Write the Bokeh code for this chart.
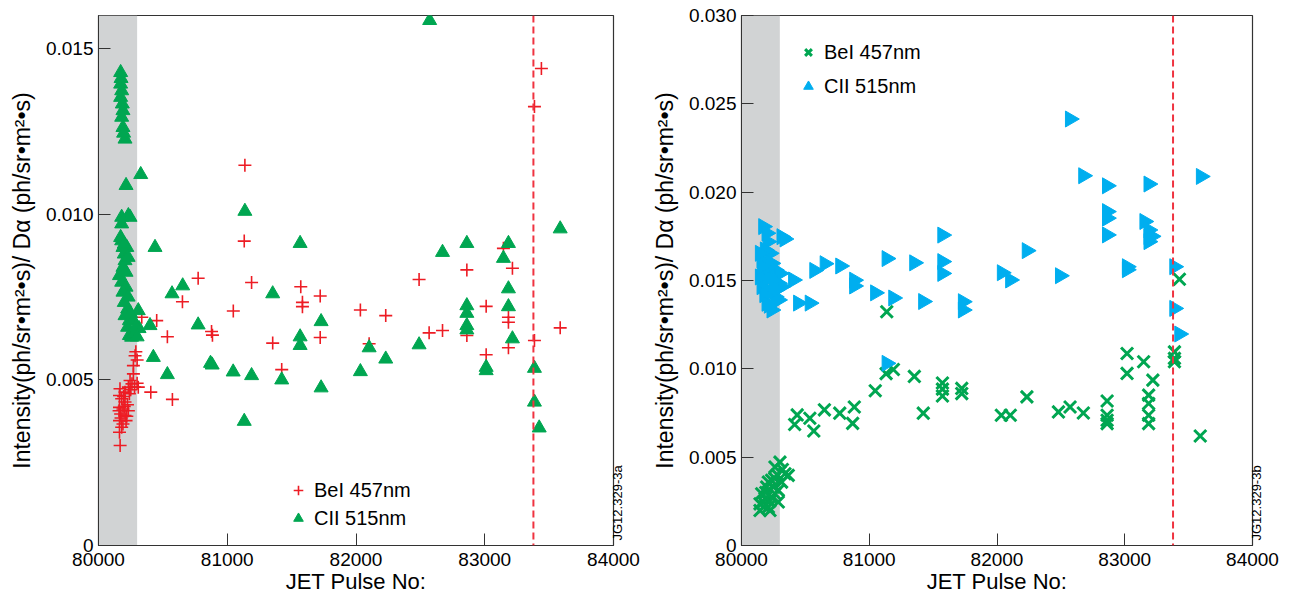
import numpy as np
from bokeh.plotting import figure
from bokeh.layouts import row
from bokeh.models import (BoxAnnotation, Span, Legend, LegendItem, FixedTicker,
                          LinearAxis, Range1d, ColumnDataSource)
from bokeh.embed import file_html
from bokeh.resources import INLINE

# ---------------- data ----------------
x_ticks = [80000, 81000, 82000, 83000, 84000]
left_y_ticks = [0, 0.005, 0.010, 0.015]
left_y_labels = ["0", "0.005", "0.010", "0.015"]
right_y_ticks = [0, 0.005, 0.010, 0.015, 0.020, 0.025, 0.030]
right_y_labels = ["0", "0.005", "0.010", "0.015", "0.020", "0.025", "0.030"]
shade_start, shade_end = 80000, 80300
dashed_pulse = 83378

series_bei = "BeI 457nm"
series_cii = "CII 515nm"

left_bei = [
    (80284, 0.00573), (80271, 0.00543), (80271, 0.00518), (80290, 0.00585), (80300, 0.0056),
    (80245, 0.00498), (80309, 0.00478), (80232, 0.00478), (80206, 0.00463), (80240, 0.00458),
    (80180, 0.00443), (80206, 0.00433), (80163, 0.00417), (80190, 0.00412), (80172, 0.00397),
    (80214, 0.00377), (80163, 0.00377), (80180, 0.00357), (80163, 0.00342), (80168, 0.00302),
    (80160, 0.00407), (80206, 0.00392), (80190, 0.00367), (80232, 0.00407), (80163, 0.00453),
    (80167, 0.00473), (80260, 0.00488), (80280, 0.00478), (80225, 0.00425), (80195, 0.0045),
    (80175, 0.00385), (80200, 0.0042), (80250, 0.0047), (80300, 0.0049), (80220, 0.0039),
    (80336, 0.00689), (80452, 0.00679), (80406, 0.00463), (80535, 0.0063), (80574, 0.00441),
    (80652, 0.00736), (80774, 0.00807), (80878, 0.00646), (80885, 0.00635), (81047, 0.00708),
    (81137, 0.01148), (81132, 0.00919), (81189, 0.00794), (81353, 0.00611), (81423, 0.00531),
    (81571, 0.00781), (81584, 0.00734), (81584, 0.00721), (81722, 0.00753), (81722, 0.00628),
    (82034, 0.00711), (82102, 0.00609), (82231, 0.00694), (82490, 0.00803), (82568, 0.00642),
    (82672, 0.00649), (82861, 0.00832), (82861, 0.00634), (83011, 0.00722), (83011, 0.00576),
    (83145, 0.00897), (83184, 0.00689), (83184, 0.00674), (83184, 0.00597), (83215, 0.00837),
    (83386, 0.01325), (83386, 0.00619), (83440, 0.0144), (83586, 0.00657),
]
left_cii = [
    (80172, 0.01428), (80175, 0.01410), (80172, 0.01393), (80180, 0.01373), (80172, 0.01353),
    (80185, 0.01333), (80190, 0.01313), (80180, 0.01293), (80190, 0.01262), (80206, 0.01227),
    (80195, 0.01245), (80328, 0.0112), (80214, 0.01087), (80232, 0.00996), (80180, 0.00991),
    (80245, 0.00991), (80180, 0.00971), (80180, 0.0092), (80172, 0.0093), (80190, 0.009),
    (80200, 0.0088), (80206, 0.0086), (80190, 0.0084), (80214, 0.00825), (80163, 0.00815),
    (80180, 0.00795), (80214, 0.0078), (80190, 0.00765), (80200, 0.00734), (80226, 0.00714),
    (80206, 0.00694), (80240, 0.00679), (80226, 0.00659), (80240, 0.00634), (80257, 0.00629),
    (80309, 0.00709), (80315, 0.00655), (80230, 0.0075), (80250, 0.0070), (80270, 0.0068),
    (80280, 0.0064), (80290, 0.0066), (80220, 0.0090), (80230, 0.0087), (80200, 0.0091),
    (80300, 0.0063),
    (80439, 0.009), (80400, 0.00664), (80426, 0.00568), (80571, 0.0076), (80654, 0.00784),
    (80774, 0.00666), (80535, 0.00516), (80870, 0.0055), (80883, 0.00545), (81046, 0.00524),
    (81137, 0.01009), (81132, 0.00375), (81189, 0.00513), (81353, 0.0076), (81423, 0.005),
    (81566, 0.00912), (81566, 0.0063), (81566, 0.00604), (81729, 0.00676), (81729, 0.00476),
    (82034, 0.00525), (82102, 0.00597), (82231, 0.00563), (82490, 0.00606), (82572, 0.01585),
    (82672, 0.00885), (82861, 0.00912), (82861, 0.00724), (82861, 0.00701), (82861, 0.00664),
    (82861, 0.00651), (83011, 0.00538), (83011, 0.00528), (83145, 0.00867), (83184, 0.00912),
    (83184, 0.00775), (83184, 0.00721), (83215, 0.00624), (83386, 0.00535), (83386, 0.00433),
    (83423, 0.00355), (83586, 0.00956),
]
right_bei = [
    (80301, 0.00472), (80366, 0.00397), (80262, 0.00444), (80236, 0.00369), (80314, 0.00359),
    (80197, 0.00331), (80288, 0.00312), (80158, 0.00293), (80236, 0.00274), (80288, 0.00246),
    (80145, 0.00236), (80210, 0.00217), (80145, 0.00198), (80223, 0.00198), (80184, 0.00265),
    (80262, 0.00293), (80210, 0.00359), (80340, 0.00406), (80170, 0.00246), (80250, 0.00331),
    (80280, 0.0040), (80320, 0.0043), (80190, 0.0030), (80220, 0.0025), (80260, 0.0038),
    (80175, 0.0022),
    (80416, 0.00685), (80436, 0.00739), (80535, 0.0072), (80566, 0.00648), (80649, 0.00768),
    (80769, 0.00749), (80883, 0.00784), (80870, 0.00691), (81047, 0.00876), (81132, 0.00973),
    (81137, 0.01323), (81189, 0.00996), (81353, 0.00957), (81423, 0.00749), (81573, 0.0092),
    (81573, 0.00885), (81573, 0.00846), (81724, 0.00889), (81724, 0.0086), (82034, 0.00737),
    (82104, 0.00737), (82234, 0.00841), (82481, 0.00756), (82572, 0.00784), (82676, 0.0075),
    (82862, 0.00818), (82862, 0.00737), (82862, 0.00709), (82862, 0.0069), (83018, 0.01087),
    (83018, 0.00974), (83148, 0.0104), (83187, 0.00851), (83187, 0.00804), (83187, 0.00737),
    (83187, 0.0069), (83220, 0.00936), (83389, 0.01096), (83389, 0.01059), (83389, 0.0104),
    (83428, 0.01507), (83591, 0.0062),
]
right_cii = [
    (80171, 0.01805), (80197, 0.01768), (80314, 0.01748), (80205, 0.0172), (80184, 0.01673),
    (80223, 0.01654), (80158, 0.01616), (80236, 0.01597), (80262, 0.0156), (80171, 0.0156),
    (80301, 0.0154), (80184, 0.01503), (80314, 0.01465), (80205, 0.01446), (80262, 0.01408),
    (80197, 0.01371), (80236, 0.01333), (80288, 0.0139), (80158, 0.01465), (80145, 0.0152),
    (80223, 0.0152), (80288, 0.01484), (80145, 0.01654), (80210, 0.0158), (80250, 0.0150),
    (80230, 0.0143), (80275, 0.0145), (80180, 0.0142), (80215, 0.0136), (80160, 0.0158),
    (80338, 0.01735), (80405, 0.01503), (80444, 0.01372), (80535, 0.01372), (80571, 0.01557),
    (80652, 0.01595), (80774, 0.01582), (80883, 0.01502), (80883, 0.01469), (81047, 0.0143),
    (81137, 0.01624), (81137, 0.01031), (81189, 0.01401), (81353, 0.016), (81423, 0.01381),
    (81573, 0.01757), (81573, 0.01607), (81573, 0.0154), (81734, 0.0138), (81734, 0.01333),
    (82039, 0.01544), (82104, 0.01503), (82234, 0.01669), (82494, 0.01527), (82572, 0.02414),
    (82676, 0.02093), (82862, 0.02036), (82862, 0.0189), (82862, 0.01853), (82862, 0.01758),
    (83018, 0.01578), (83018, 0.01561), (83155, 0.01834), (83187, 0.02046), (83187, 0.01786),
    (83187, 0.01748), (83187, 0.0172), (83212, 0.0175), (83389, 0.01578), (83389, 0.01342),
    (83428, 0.01197), (83597, 0.02089),
]

# ---------------- style ----------------
FONT = "Liberation Sans"
RED = "#ED1C24"
GREEN = "#00A651"
CYAN = "#00AEEF"
GRAY = "#D1D3D4"
DASH = "#EF3340"
Y_TITLE = "Intensity(ph/sr•m²•s)/ Dα (ph/sr•m²•s)"


def src(pts):
    return ColumnDataSource(dict(x=[p[0] for p in pts], y=[p[1] for p in pts]))


def add_tag(p, tag, ymax):
    # the reference tag is drawn as the single, vertical tick label of a
    # line-less right axis, starting just above the bottom of the frame
    pos = round(ymax * 5 / 530, 6)
    ax = LinearAxis(ticker=FixedTicker(ticks=[pos]), major_label_overrides={pos: tag},
                    major_label_orientation=np.pi / 2,
                    major_label_text_font=FONT, major_label_text_font_size="13px",
                    major_label_text_color="black", major_label_standoff=4,
                    axis_line_color=None, major_tick_line_color=None,
                    minor_tick_line_color=None,
                    major_tick_in=0, major_tick_out=0, minor_tick_in=0, minor_tick_out=0)
    p.add_layout(ax, "right")


def base(ymax, yticks, ylabels, border_left, border_right):
    p = figure(width=648, height=596, x_range=Range1d(80000, 84000),
               y_range=Range1d(0, ymax), output_backend="svg",
               toolbar_location=None, min_border_left=border_left,
               min_border_right=border_right, min_border_top=15, min_border_bottom=0)
    p.xgrid.visible = False
    p.ygrid.visible = False
    p.background_fill_color = "white"
    p.outline_line_color = "#333333"
    p.outline_line_width = 1.2
    p.outline_line_alpha = 1
    p.add_layout(BoxAnnotation(left=shade_start, right=shade_end, fill_color=GRAY,
                               fill_alpha=1, line_alpha=0, level="underlay"))
    p.add_layout(Span(location=dashed_pulse, dimension="height", line_color=DASH,
                      line_dash="7 4", line_width=2))
    for ax in (p.xaxis[0], p.yaxis[0]):
        ax.major_tick_in = 12
        ax.major_tick_out = 0
        ax.minor_tick_in = 0
        ax.minor_tick_out = 0
        ax.axis_line_color = "#333333"
        ax.major_tick_line_color = "#333333"
        ax.major_label_text_font = FONT
        ax.major_label_text_font_size = "19px"
        ax.major_label_text_color = "black"
        ax.axis_label_text_font = FONT
        ax.axis_label_text_font_style = "normal"
        ax.axis_label_text_color = "black"
    p.xaxis[0].ticker = FixedTicker(ticks=x_ticks)
    p.xaxis[0].major_label_standoff = 7
    p.xaxis[0].axis_label = "JET Pulse No:"
    p.xaxis[0].axis_label_text_font_size = "22px"
    p.xaxis[0].axis_label_standoff = 0
    p.yaxis[0].ticker = FixedTicker(ticks=yticks)
    p.yaxis[0].major_label_overrides = {t: l for t, l in zip(yticks, ylabels)}
    p.yaxis[0].major_label_standoff = 5
    p.yaxis[0].axis_label = Y_TITLE
    p.yaxis[0].axis_label_text_font_size = "23px"
    p.yaxis[0].axis_label_standoff = 8
    return p


# ---------------- left ----------------
p1 = base(0.016, left_y_ticks, left_y_labels, 98, 35)
add_tag(p1, "JG12.329-3a", 0.016)
r1 = p1.scatter("x", "y", source=src(left_bei), marker="cross", size=13,
                line_color=RED, line_width=1.6)
r2 = p1.scatter("x", "y", source=src(left_cii), marker="triangle", size=14,
                fill_color=GREEN, line_color=GREEN, line_width=1)
leg1 = Legend(items=[LegendItem(label=series_bei, renderers=[r1]),
                     LegendItem(label=series_cii, renderers=[r2])],
              location=(188, 15), glyph_width=24, glyph_height=24, label_height=24,
              spacing=4, padding=0, label_standoff=4, border_line_alpha=0,
              background_fill_alpha=0, label_text_font=FONT,
              label_text_font_size="20px", label_text_color="black")
p1.add_layout(leg1)

# ---------------- right ----------------
p2 = base(0.030, right_y_ticks, right_y_labels, 90, 44)
add_tag(p2, "JG12.329-3b", 0.030)
r3 = p2.scatter("x", "y", source=src(right_bei), marker="x", size=17,
                line_color=GREEN, line_width=3)
r4 = p2.scatter("x", "y", source=src(right_cii), marker="triangle", size=16,
                angle=-np.pi / 2, fill_color=CYAN, line_color=CYAN, line_width=1)
leg2 = Legend(items=[LegendItem(label=series_bei, renderers=[r3]),
                     LegendItem(label=series_cii, renderers=[r4])],
              location=(55, 447), glyph_width=24, glyph_height=24, label_height=24,
              spacing=10, padding=0, label_standoff=4, border_line_alpha=0,
              background_fill_alpha=0, label_text_font=FONT,
              label_text_font_size="20px", label_text_color="black")
p2.add_layout(leg2)

layout = row(p1, p2)
open("out.html", "w").write(file_html(layout, INLINE))
